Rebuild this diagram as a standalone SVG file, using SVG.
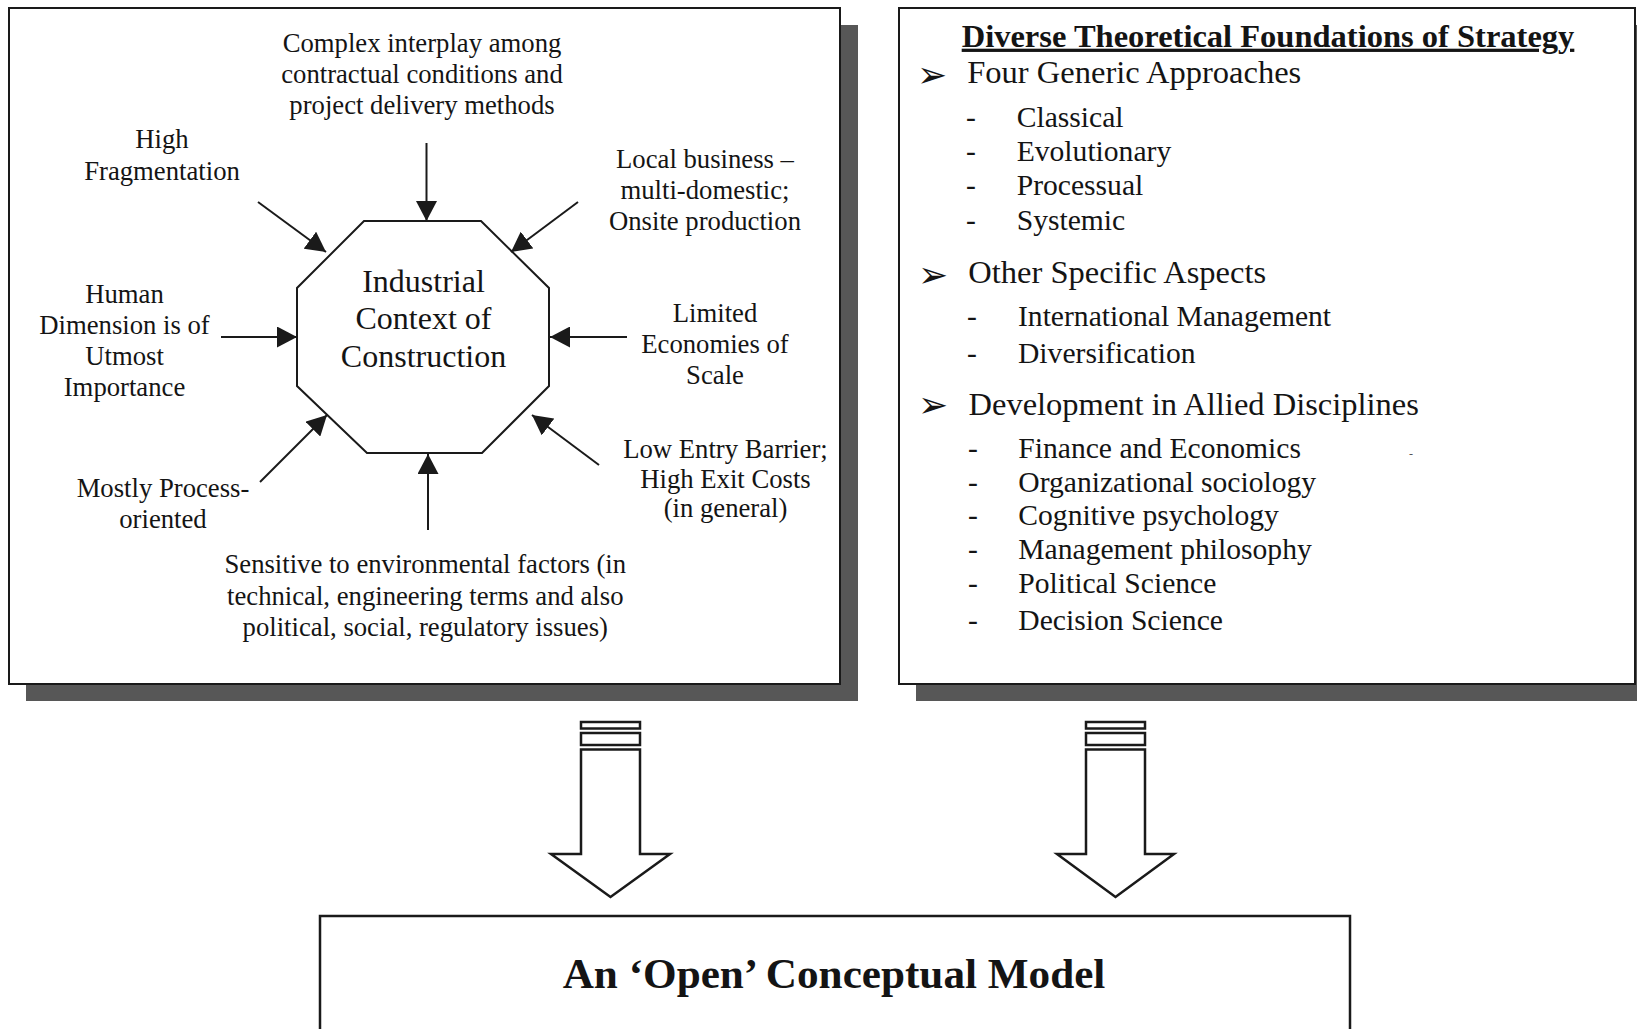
<svg xmlns="http://www.w3.org/2000/svg" width="1637" height="1029" viewBox="0 0 1637 1029">
  <style>
    .panel { fill: #ffffff; stroke: #1a1a1a; stroke-width: 2; }
    .shadow { fill: #575757; }
    .oct { fill: #ffffff; stroke: #1a1a1a; stroke-width: 2; }
    .lbl { font-family: "Liberation Serif", "Times New Roman", serif; font-size: 26.7px; fill: #141414; text-anchor: middle; }
    .core { font-family: "Liberation Serif", "Times New Roman", serif; font-size: 32px; fill: #141414; text-anchor: middle; }
    .head { font-family: "Liberation Serif", "Times New Roman", serif; font-size: 32.5px; font-weight: bold; fill: #141414; }
    .main { font-family: "Liberation Serif", "Times New Roman", serif; font-size: 32.5px; fill: #141414; }
    .sub { font-family: "Liberation Serif", "Times New Roman", serif; font-size: 29.6px; fill: #141414; }
    .bul { font-family: "DejaVu Sans", sans-serif; font-size: 36px; fill: #141414; }
    .title { font-family: "Liberation Serif", "Times New Roman", serif; font-size: 43.2px; font-weight: bold; fill: #141414; text-anchor: middle; }
    .link { stroke: #1a1a1a; stroke-width: 2; fill: none; marker-end: url(#tip); }
    .block { fill: #ffffff; stroke: #1a1a1a; stroke-width: 2.5; stroke-linejoin: miter; }
  </style>
  <defs>
    <marker id="tip" markerUnits="userSpaceOnUse" markerWidth="20" markerHeight="21" refX="20" refY="10.5" orient="auto">
      <path d="M0,0 L20,10.5 L0,21 Z" fill="#1a1a1a"/>
    </marker>
  </defs>

  <rect width="1637" height="1029" fill="#ffffff"/>

  <!-- left panel: industrial context -->
  <g id="context-panel">
    <rect class="shadow" x="26" y="25" width="832" height="676"/>
    <rect class="panel" x="9" y="8" width="831" height="676"/>
  </g>

  <g id="context-core">
    <polygon class="oct" points="364,221 481,221 549,288 549,386 482,453 367,453 297,386 297,288"/>
    <text class="core" x="423.5" y="291.7">Industrial</text>
    <text class="core" x="423.5" y="329.3">Context of</text>
    <text class="core" x="423.5" y="366.7">Construction</text>
  </g>

  <g id="factor-contract">
    <text class="lbl" x="422" y="52">Complex interplay among</text>
    <text class="lbl" x="422" y="83">contractual conditions and</text>
    <text class="lbl" x="422" y="114">project delivery methods</text>
  </g>
  <g id="factor-fragmentation">
    <text class="lbl" x="162" y="148">High</text>
    <text class="lbl" x="162" y="180">Fragmentation</text>
  </g>
  <g id="factor-local">
    <text class="lbl" x="705" y="167.5">Local business –</text>
    <text class="lbl" x="705" y="199">multi-domestic;</text>
    <text class="lbl" x="705" y="230">Onsite production</text>
  </g>
  <g id="factor-human">
    <text class="lbl" x="124.5" y="303">Human</text>
    <text class="lbl" x="124.5" y="334">Dimension is of</text>
    <text class="lbl" x="124.5" y="365">Utmost</text>
    <text class="lbl" x="124.5" y="396">Importance</text>
  </g>
  <g id="factor-scale">
    <text class="lbl" x="715" y="322">Limited</text>
    <text class="lbl" x="715" y="353">Economies of</text>
    <text class="lbl" x="715" y="384">Scale</text>
  </g>
  <g id="factor-process">
    <text class="lbl" x="163" y="496.7">Mostly Process-</text>
    <text class="lbl" x="163" y="527.7">oriented</text>
  </g>
  <g id="factor-barrier">
    <text class="lbl" x="725.5" y="458.3">Low Entry Barrier;</text>
    <text class="lbl" x="725.5" y="488.3">High Exit Costs</text>
    <text class="lbl" x="725.5" y="517">(in general)</text>
  </g>
  <g id="factor-environment">
    <text class="lbl" x="425.3" y="573.3">Sensitive to environmental factors (in</text>
    <text class="lbl" x="425.3" y="605">technical, engineering terms and also</text>
    <text class="lbl" x="425.3" y="636">political, social, regulatory issues)</text>
  </g>

  <!-- right panel: theoretical foundations -->
  <g id="theory-panel">
    <rect class="shadow" x="916" y="25" width="740" height="676"/>
    <rect class="panel" x="899" y="8" width="736" height="676"/>
    <text class="head" x="961.7" y="46.7" text-decoration="underline">Diverse Theoretical Foundations of Strategy</text>

    <text class="bul" x="917" y="87">➢</text>
    <text class="main" x="967.3" y="83.3">Four Generic Approaches</text>
    <text class="sub" x="966" y="126.7">-</text>
    <text class="sub" x="1016.7" y="126.7">Classical</text>
    <text class="sub" x="966" y="160.7">-</text>
    <text class="sub" x="1016.7" y="160.7">Evolutionary</text>
    <text class="sub" x="966" y="195">-</text>
    <text class="sub" x="1016.7" y="195">Processual</text>
    <text class="sub" x="966" y="230">-</text>
    <text class="sub" x="1016.7" y="230">Systemic</text>

    <text class="bul" x="918" y="287">➢</text>
    <text class="main" x="968.3" y="282.7">Other Specific Aspects</text>
    <text class="sub" x="967" y="326">-</text>
    <text class="sub" x="1018" y="326">International Management</text>
    <text class="sub" x="967" y="363.3">-</text>
    <text class="sub" x="1018" y="363.3">Diversification</text>

    <text class="bul" x="918" y="417">➢</text>
    <text class="main" x="968.5" y="415">Development in Allied Disciplines</text>
    <text class="sub" x="968" y="457.7">-</text>
    <text class="sub" x="1018.3" y="457.7">Finance and Economics</text>
    <text class="sub" x="968" y="491.7">-</text>
    <text class="sub" x="1018.3" y="491.7">Organizational sociology</text>
    <text class="sub" x="968" y="525">-</text>
    <text class="sub" x="1018.3" y="525">Cognitive psychology</text>
    <text class="sub" x="968" y="559.3">-</text>
    <text class="sub" x="1018.3" y="559.3">Management philosophy</text>
    <text class="sub" x="968" y="593.3">-</text>
    <text class="sub" x="1018.3" y="593.3">Political Science</text>
    <text class="sub" x="968" y="630">-</text>
    <text class="sub" x="1018.3" y="630">Decision Science</text>

    <text x="1409" y="458" font-family="Liberation Serif, serif" font-size="12" fill="#555">-</text>
  </g>

  <!-- bottom block: conceptual model -->
  <g id="model">
    <rect class="block" x="320" y="916" width="1030" height="130"/>
    <text class="title" x="834" y="988">An ‘Open’ Conceptual Model</text>
  </g>

  <!-- connectors -->
  <g id="connectors">
    <line class="link" x1="426.5" y1="143" x2="426.5" y2="221"/>
    <line class="link" x1="258" y1="202" x2="326" y2="252"/>
    <line class="link" x1="578" y1="202" x2="511" y2="252"/>
    <line class="link" x1="221" y1="337" x2="297" y2="337"/>
    <line class="link" x1="627" y1="337" x2="550" y2="337"/>
    <line class="link" x1="260" y1="482" x2="327" y2="415"/>
    <line class="link" x1="599" y1="465" x2="532" y2="415"/>
    <line class="link" x1="428" y1="530" x2="428" y2="454"/>

    <!-- hollow block arrows into the model -->
    <g id="flow-left">
      <rect class="block" x="581" y="722" width="59" height="6.5"/>
      <rect class="block" x="581" y="733" width="59" height="12"/>
      <path class="block" d="M581,749.5 L640,749.5 L640,854 L670,854 L610.5,897 L551,854 L581,854 Z"/>
    </g>
    <g id="flow-right">
      <rect class="block" x="1086" y="722" width="59" height="6.5"/>
      <rect class="block" x="1086" y="733" width="59" height="12"/>
      <path class="block" d="M1086,749.5 L1145,749.5 L1145,854 L1174,854 L1115.5,897 L1057,854 L1086,854 Z"/>
    </g>
  </g>
</svg>
